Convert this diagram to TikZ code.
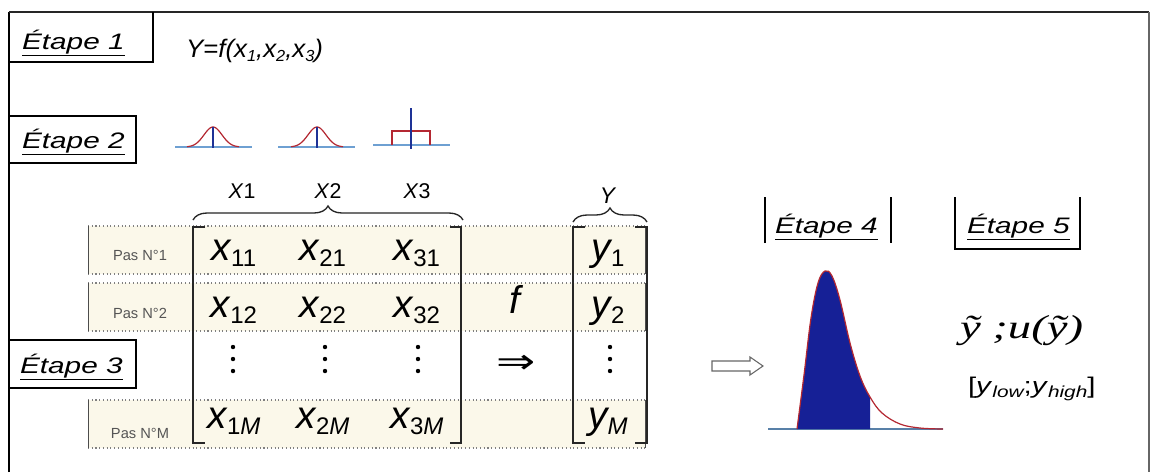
\documentclass[tikz,border=0pt]{standalone}
\usepackage{fontspec}
\setmainfont{Liberation Sans}
\newfontfamily\tms{Liberation Serif}
\newfontfamily\dejavu{DejaVu Sans}
\usepackage{graphicx}
\usetikzlibrary{decorations.pathreplacing}
\definecolor{rowfill}{HTML}{FBF8EA}
\definecolor{navyfill}{RGB}{22,32,150}
\definecolor{curvered}{RGB}{180,40,50}
\definecolor{baseblue}{RGB}{110,160,210}
\definecolor{darkblue}{RGB}{30,50,150}
\definecolor{pasgray}{RGB}{85,85,85}
\newcommand\stretchx[2]{\scalebox{#1}[1]{#2}}
\newcommand\etape[1]{{\fontsize{16.8}{20}\selectfont\stretchx{1.33}{\underline{\itshape Étape #1}}}}
\newcommand\xent[1]{{\fontsize{29}{30}\selectfont\itshape x}\raisebox{-4.5pt}{\fontsize{18}{20}\selectfont #1}}
\newcommand\yent[1]{{\fontsize{29}{30}\selectfont\itshape y}\raisebox{-4.5pt}{\fontsize{18}{20}\selectfont #1}}
\newcommand\sbs[1]{\raisebox{-3pt}{\fontsize{12}{13}\selectfont\itshape #1}}
\tikzset{
  txt/.style={inner sep=0pt, outer sep=0pt, anchor=base},
  boxline/.style={line width=1pt, black},
  bracketline/.style={line width=1.1pt, black!85},
  rowdot/.style={gray, dotted, line width=0.8pt},
  rowside/.style={black!70, line width=0.6pt},
  pas/.style={txt, text=pasgray, font=\fontsize{11}{12}\selectfont},
  brc/.style={decorate, decoration={brace, amplitude=10.5pt}, line width=1pt, black!85},
  vdot/.style={circle, fill=black, inner sep=0pt, minimum size=3.3pt},
}
\begin{document}
\begin{tikzpicture}[x=0.75pt, y=-0.75pt]
\useasboundingbox (0,0) rectangle (1151,472);
\fill[white] (0,0) rectangle (1151,472);
% frame
\draw[line width=2.2pt, black] (9,472) -- (9,12);
\draw[line width=1.5pt, black!85] (9,12) -- (1149,12);
\draw[line width=1.3pt, black!60] (1149,12) -- (1149,472);
% step boxes
\draw[boxline] (9,62) -- (153,62) -- (153,12);
\draw[boxline] (9,116) -- (136,116) -- (136,163) -- (9,163);
\draw[boxline] (9,340) -- (136,340) -- (136,388) -- (9,388);
\draw[boxline] (765,243) -- (765,197);
\draw[boxline] (891,197) -- (891,243);
\draw[boxline] (955,197) -- (955,249) -- (1080,249) -- (1080,197);
% step labels
\node[txt, anchor=base west] (e1) at (22,49) {\etape{1}};
\node[txt, anchor=base west] (e2) at (22,148) {\etape{2}};
\node[txt, anchor=base west] (e3) at (20,373) {\etape{3}};
\node[txt, anchor=base west] (e4) at (775,233) {\etape{4}};
\node[txt, anchor=base west] (e5) at (967,233) {\etape{5}};
% model
\node[txt, anchor=base west] (model) at (186,57) {\fontsize{19}{22}\selectfont\stretchx{1.02}{\itshape Y=f(x\sbs{1},x\sbs{2},x\sbs{3})}};
% step 2 distributions
\draw[baseblue, line width=0.8pt] (175,147) -- (252,147);
\draw[curvered, line width=0.9pt] plot[domain=-26:26, samples=60] ({213+\x},{147-20*exp(-(\x*\x)/162)});
\draw[darkblue, line width=0.9pt] (213,127) -- (213,148);
\draw[baseblue, line width=0.8pt] (278,147) -- (355,147);
\draw[curvered, line width=0.9pt] plot[domain=-26:26, samples=60] ({317+\x},{147-20*exp(-(\x*\x)/162)});
\draw[darkblue, line width=0.9pt] (317,127) -- (317,148);
\draw[baseblue, line width=0.8pt] (373,145) -- (450,145);
\draw[curvered, line width=0.9pt] (392,145) -- (392,131) -- (430,131) -- (430,145);
\draw[darkblue, line width=0.9pt] (411,108) -- (411,149);
% rows
\foreach \t/\b in {226/274, 283/331, 400/448}{
  \fill[rowfill] (88,\t) rectangle (645,\b);
  \draw[rowdot] (88,\t) -- (645,\t);
  \draw[rowdot] (88,\b) -- (645,\b);
  \draw[rowside] (88,\t) -- (88,\b);
  \draw[rowside] (645,\t) -- (645,\b);
}
\node[pas] (p1) at (140,260) {Pas N°1};
\node[pas] (p2) at (140,318) {Pas N°2};
\node[pas] (pm) at (140,438) {Pas N°M};
% column labels and braces
\node[txt] (X1) at (242,198) {\fontsize{16}{18}\selectfont\textit{X}1};
\node[txt] (X2) at (328,198) {\fontsize{16}{18}\selectfont\textit{X}2};
\node[txt] (X3) at (417,198) {\fontsize{16}{18}\selectfont\textit{X}3};
\node[txt] (Ylab) at (608,203) {\fontsize{17}{20}\selectfont\textit{Y}};
\draw[brc] (193,220) -- (463,220);
\draw[brc] (573,222) -- (647,222);
% brackets
\draw[bracketline] (205,227) -- (193,227) -- (193,443) -- (205,443);
\draw[bracketline] (450,227) -- (461,227) -- (461,443) -- (450,443);
\draw[bracketline] (585,227) -- (573,227) -- (573,443) -- (585,443);
\draw[bracketline] (635,227) -- (647,227) -- (647,443) -- (635,443);
% X entries
\node[txt] (x11) at (234,260) {\xent{11}};
\node[txt] (x21) at (323,260) {\xent{21}};
\node[txt] (x31) at (417,260) {\xent{31}};
\node[txt] (x12) at (234,317) {\xent{12}};
\node[txt] (x22) at (323,317) {\xent{22}};
\node[txt] (x32) at (417,317) {\xent{32}};
\node[txt] (x1M) at (234,428) {\xent{1\textit{M}}};
\node[txt] (x2M) at (323,428) {\xent{2\textit{M}}};
\node[txt] (x3M) at (417,428) {\xent{3\textit{M}}};
% vertical ellipses
\foreach \cx/\nm in {233/da, 325/db, 418/dc, 610/dy}{
  \node[vdot] (\nm1) at (\cx,347) {};
  \node[vdot] (\nm2) at (\cx,359) {};
  \node[vdot] (\nm3) at (\cx,371) {};
}
% Y entries
\node[txt] (y1) at (608,260) {\yent{1}};
\node[txt] (y2) at (608,317) {\yent{2}};
\node[txt] (yM) at (608,428) {\yent{\textit{M}}};
% f and implication
\node[txt] (f) at (515,313) {\fontsize{29}{30}\selectfont\itshape f};
\node[inner sep=0pt] (impl) at (516,364) {\dejavu\fontsize{26}{28}\selectfont\stretchx{1.35}{⇒}};
% hollow arrow
\draw[black!60, line width=0.8pt, fill=white] (712,361) -- (750,361) -- (750,357) -- (763,366) -- (750,375) -- (750,371) -- (712,371) -- cycle;
% output distribution
\draw[baseblue!80!black, line width=0.9pt] (768,429) -- (943,429);
\def\outcurve{plot[smooth, tension=0.6] coordinates {(797,429) (804,375) (811,318) (818,283) (825,271) (832,276) (840,300) (850,343) (860,376) (870,397) (882,413) (900,424) (920,428) (943,429)}}
\begin{scope}
\clip (790,200) rectangle (870,430);
\fill[navyfill] \outcurve -- cycle;
\end{scope}
\draw[curvered, line width=0.9pt] \outcurve;
% step 5 results
\node[txt, anchor=base west] (res1) at (960,338) {\tms\fontsize{25}{28}\selectfont\stretchx{1.4}{\itshape ỹ ;u(ỹ)}};
\node[txt, anchor=base west] (res2) at (968,393) {\fontsize{17}{19}\selectfont\stretchx{1.3}{[\textit{y}\sbs{low};\textit{y}\sbs{high}]}};
\end{tikzpicture}
\end{document}
